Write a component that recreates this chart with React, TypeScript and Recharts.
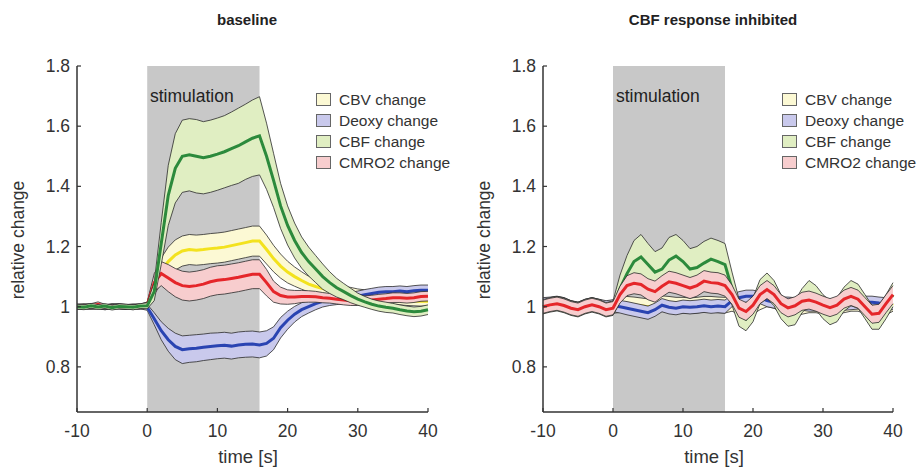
import React from "react";
import { ComposedChart, Area, Line, XAxis, YAxis, ReferenceArea } from "recharts";

// time axis, seconds
const time = [
  -10, -9, -8, -7, -6, -5, -4, -3, -2, -1,
  0, 1, 2, 3, 4, 5, 6, 7, 8, 9,
  10, 11, 12, 13, 14, 15, 16, 17, 18, 19,
  20, 21, 22, 23, 24, 25, 26, 27, 28, 29,
  30, 31, 32, 33, 34, 35, 36, 37, 38, 39, 40,
];
const xTicks = [-10, 0, 10, 20, 30, 40];
const yTicks = [0.8, 1, 1.2, 1.4, 1.6, 1.8];
const stimWindow = [0, 16];

// ---- baseline panel ----
const baseCbv = [
  1.0, 1.002, 0.999, 1.001, 0.998, 1.002, 1.0, 0.999, 1.001, 1.0,
  1.005, 1.07, 1.12, 1.15, 1.172, 1.185, 1.19, 1.188, 1.19, 1.193,
  1.195, 1.198, 1.203, 1.208, 1.213, 1.218, 1.218, 1.19, 1.16, 1.135,
  1.115, 1.1, 1.087, 1.075, 1.067, 1.06, 1.056, 1.053, 1.05, 1.047,
  1.043, 1.04, 1.035, 1.03, 1.027, 1.024, 1.022, 1.02, 1.019, 1.018, 1.018,
];
const baseCbvSd = [
  0.008, 0.008, 0.008, 0.008, 0.008, 0.008, 0.008, 0.008, 0.008, 0.008,
  0.01, 0.03, 0.042, 0.048, 0.05, 0.05, 0.05, 0.05, 0.05, 0.05,
  0.05, 0.05, 0.05, 0.05, 0.05, 0.05, 0.05, 0.048, 0.044, 0.04,
  0.036, 0.032, 0.029, 0.026, 0.024, 0.022, 0.02, 0.019, 0.018, 0.017,
  0.016, 0.016, 0.016, 0.016, 0.016, 0.016, 0.016, 0.016, 0.016, 0.016, 0.016,
];
const baseDeoxy = [
  1.0, 0.999, 1.001, 1.0, 0.998, 1.001, 1.002, 0.999, 1.0, 1.001,
  0.998, 0.96, 0.92, 0.89, 0.868, 0.857, 0.86, 0.862, 0.865, 0.868,
  0.87, 0.872, 0.869, 0.873, 0.875, 0.876, 0.873, 0.878, 0.895, 0.93,
  0.955, 0.975, 0.99, 1.0, 1.01, 1.018, 1.022, 1.025, 1.028, 1.031,
  1.035, 1.04, 1.044, 1.048, 1.05, 1.05, 1.052, 1.05, 1.053, 1.055, 1.055,
];
const baseDeoxySd = [
  0.008, 0.008, 0.008, 0.008, 0.008, 0.008, 0.008, 0.008, 0.008, 0.008,
  0.01, 0.02, 0.03, 0.038, 0.044, 0.046, 0.045, 0.045, 0.044, 0.044,
  0.043, 0.043, 0.043, 0.043, 0.043, 0.043, 0.043, 0.042, 0.038, 0.034,
  0.03, 0.026, 0.023, 0.021, 0.02, 0.019, 0.018, 0.018, 0.018, 0.017,
  0.017, 0.017, 0.017, 0.017, 0.017, 0.017, 0.017, 0.017, 0.017, 0.017, 0.017,
];
const baseCbf = [
  1.0, 0.998, 1.003, 0.999, 1.002, 0.997, 1.001, 1.0, 0.998, 1.002,
  1.003, 1.05, 1.21, 1.37, 1.46, 1.5, 1.505, 1.5, 1.495, 1.5,
  1.507, 1.515, 1.525, 1.535, 1.548, 1.56, 1.568, 1.5, 1.42, 1.335,
  1.27, 1.22, 1.18, 1.15, 1.125, 1.1, 1.08, 1.063, 1.05, 1.037,
  1.025, 1.016, 1.008, 1.002, 0.998, 0.995, 0.99, 0.986, 0.983, 0.985, 0.99,
];
const baseCbfSd = [
  0.008, 0.008, 0.008, 0.008, 0.008, 0.008, 0.008, 0.008, 0.008, 0.008,
  0.01, 0.03, 0.07, 0.1, 0.115, 0.12, 0.12, 0.122, 0.12, 0.12,
  0.12, 0.12, 0.122, 0.125, 0.125, 0.127, 0.13, 0.11, 0.09, 0.075,
  0.065, 0.058, 0.052, 0.048, 0.045, 0.042, 0.036, 0.031, 0.027, 0.024,
  0.02, 0.018, 0.017, 0.017, 0.017, 0.016, 0.016, 0.016, 0.016, 0.016, 0.016,
];
const baseCmro2 = [
  1.0, 1.0, 1.002, 1.008, 1.0, 0.999, 1.001, 1.0, 0.998, 1.001,
  1.005, 1.08, 1.11, 1.095, 1.08, 1.07, 1.067, 1.07, 1.075, 1.083,
  1.088, 1.09, 1.094, 1.098, 1.103, 1.108, 1.108, 1.08, 1.05, 1.037,
  1.032, 1.032, 1.034, 1.034, 1.033, 1.03, 1.028, 1.025, 1.022, 1.02,
  1.02, 1.02, 1.022, 1.025, 1.027, 1.03, 1.03, 1.028, 1.03, 1.034, 1.035,
];
const baseCmro2Sd = [
  0.008, 0.008, 0.008, 0.008, 0.008, 0.008, 0.008, 0.008, 0.008, 0.008,
  0.01, 0.03, 0.04, 0.045, 0.047, 0.048, 0.048, 0.048, 0.048, 0.048,
  0.048, 0.048, 0.048, 0.048, 0.048, 0.048, 0.048, 0.044, 0.035, 0.028,
  0.024, 0.022, 0.02, 0.019, 0.018, 0.017, 0.016, 0.016, 0.016, 0.016,
  0.016, 0.016, 0.016, 0.016, 0.016, 0.016, 0.016, 0.016, 0.016, 0.016, 0.016,
];

// ---- CBF response inhibited panel ----
const inhCbv = [
  1.005, 1.008, 1.012, 1.008, 0.998, 0.993, 1.002, 1.008, 1.002, 0.995,
  1.0, 1.005, 1.008, 1.006, 1.003, 1.0, 1.003, 1.01, 1.008, 1.005,
  1.005, 1.003, 1.005, 1.008, 1.008, 1.006, 1.005, 1.01, 1.0, 0.995,
  1.0, 1.015, 1.025, 1.02, 1.005, 0.995, 0.995, 1.0, 1.005, 1.005,
  1.0, 0.998, 1.0, 1.005, 1.01, 1.01, 1.002, 0.995, 0.992, 0.998, 1.01,
];
const inhCbvSd = [
  0.022, 0.022, 0.022, 0.022, 0.022, 0.022, 0.022, 0.022, 0.022, 0.022,
  0.022, 0.024, 0.026, 0.026, 0.026, 0.026, 0.026, 0.026, 0.026, 0.026,
  0.026, 0.026, 0.026, 0.026, 0.026, 0.026, 0.026, 0.025, 0.025, 0.025,
  0.025, 0.025, 0.025, 0.025, 0.025, 0.025, 0.025, 0.025, 0.025, 0.025,
  0.025, 0.025, 0.025, 0.025, 0.025, 0.025, 0.025, 0.025, 0.025, 0.025, 0.025,
];
const inhDeoxy = [
  1.01, 1.012, 1.015, 1.01, 1.0, 0.995, 1.005, 1.01, 1.005, 1.0,
  1.003, 1.0, 0.995, 0.99, 0.985, 0.98, 0.99, 1.005, 0.998, 0.995,
  1.0, 0.998, 1.0, 1.003, 1.0, 1.002, 1.0, 1.02, 1.03, 1.035,
  1.035, 1.03, 1.02, 1.015, 1.012, 1.012, 1.01, 1.008, 1.005, 1.005,
  1.005, 1.005, 1.005, 1.008, 1.01, 1.012, 1.015, 1.015, 1.012, 1.01, 1.01,
];
const inhDeoxySd = [
  0.02, 0.02, 0.02, 0.02, 0.02, 0.02, 0.02, 0.02, 0.02, 0.02,
  0.02, 0.021, 0.022, 0.022, 0.022, 0.022, 0.022, 0.022, 0.022, 0.022,
  0.022, 0.022, 0.022, 0.022, 0.022, 0.022, 0.022, 0.02, 0.02, 0.02,
  0.02, 0.02, 0.02, 0.02, 0.02, 0.02, 0.02, 0.02, 0.02, 0.02,
  0.02, 0.02, 0.02, 0.02, 0.02, 0.02, 0.02, 0.02, 0.02, 0.02, 0.02,
];
const inhCbf = [
  1.0, 1.006, 1.01, 1.004, 0.995, 0.99, 1.0, 1.006, 1.0, 0.99,
  0.995, 1.06, 1.11, 1.15, 1.165, 1.14, 1.115, 1.125, 1.155, 1.168,
  1.15, 1.125, 1.13, 1.145, 1.158, 1.15, 1.14, 1.06, 0.98, 0.96,
  0.99, 1.05, 1.07, 1.045, 1.0, 0.975, 0.98, 1.02, 1.045, 1.03,
  1.0, 0.98, 0.99, 1.025, 1.045, 1.035, 1.0, 0.965, 0.965, 1.0, 1.04,
];
const inhCbfSd = [
  0.024, 0.024, 0.024, 0.024, 0.024, 0.024, 0.024, 0.024, 0.024, 0.024,
  0.024, 0.045, 0.06, 0.07, 0.075, 0.07, 0.068, 0.07, 0.075, 0.072,
  0.07, 0.068, 0.07, 0.072, 0.07, 0.07, 0.07, 0.055, 0.045, 0.04,
  0.04, 0.04, 0.042, 0.042, 0.04, 0.04, 0.04, 0.04, 0.042, 0.04,
  0.04, 0.04, 0.04, 0.04, 0.042, 0.04, 0.04, 0.04, 0.04, 0.04, 0.04,
];
const inhCmro2 = [
  1.0, 1.006, 1.01, 1.004, 0.995, 0.99, 1.0, 1.006, 1.0, 0.99,
  0.995, 1.04, 1.07, 1.078, 1.074, 1.058, 1.05, 1.068, 1.083, 1.078,
  1.07, 1.062, 1.07, 1.085, 1.08, 1.078, 1.07, 1.04, 0.995, 0.984,
  1.005, 1.04, 1.057, 1.04, 1.01, 0.996, 1.003, 1.018, 1.022, 1.015,
  1.005, 0.997, 1.005, 1.025, 1.034, 1.025, 1.0, 0.975, 0.978, 1.01, 1.04,
];
const inhCmro2Sd = [
  0.022, 0.022, 0.022, 0.022, 0.022, 0.022, 0.022, 0.022, 0.022, 0.022,
  0.022, 0.028, 0.033, 0.035, 0.035, 0.035, 0.035, 0.035, 0.035, 0.035,
  0.035, 0.035, 0.035, 0.035, 0.035, 0.035, 0.035, 0.032, 0.03, 0.03,
  0.03, 0.03, 0.03, 0.03, 0.03, 0.03, 0.03, 0.03, 0.03, 0.03,
  0.03, 0.03, 0.03, 0.03, 0.03, 0.03, 0.03, 0.03, 0.03, 0.03, 0.03,
];

const series = [
  { key: "cbv", name: "CBV change", line: "#f3e21e", band: "#fcf9d4" },
  { key: "deoxy", name: "Deoxy change", line: "#2a44b2", band: "#c9c9ec" },
  { key: "cbf", name: "CBF change", line: "#2c8a3c", band: "#e0eec2" },
  { key: "cmro2", name: "CMRO2 change", line: "#e5262a", band: "#f7cdce" },
];

const FONT = '"Liberation Sans", Arial, Helvetica, sans-serif';
const INK = "#333";

function buildRows(means: Record<string, number[]>, sds: Record<string, number[]>) {
  return time.map((t, i) => {
    const row: Record<string, any> = { t };
    series.forEach((s) => {
      const m = means[s.key][i];
      const d = sds[s.key][i];
      row[s.key] = m;
      row[s.key + "Band"] = [m - d, m + d];
    });
    return row;
  });
}

const baselineRows = buildRows(
  { cbv: baseCbv, deoxy: baseDeoxy, cbf: baseCbf, cmro2: baseCmro2 },
  { cbv: baseCbvSd, deoxy: baseDeoxySd, cbf: baseCbfSd, cmro2: baseCmro2Sd }
);
const inhibitedRows = buildRows(
  { cbv: inhCbv, deoxy: inhDeoxy, cbf: inhCbf, cmro2: inhCmro2 },
  { cbv: inhCbvSd, deoxy: inhDeoxySd, cbf: inhCbfSd, cmro2: inhCmro2Sd }
);

const YTick = (props: any) => {
  const { x, y, payload } = props;
  return (
    <g>
      <line x1={x} x2={x + 4} y1={y} y2={y} stroke={INK} strokeWidth={1.2} />
      <text x={x - 7} y={y} dy={6} textAnchor="end" fontSize={17.5} fill={INK} fontFamily={FONT}>
        {String(payload.value)}
      </text>
    </g>
  );
};

const XTick = (props: any) => {
  const { x, y, payload } = props;
  return (
    <g>
      <line x1={x} x2={x} y1={y} y2={y - 4} stroke={INK} strokeWidth={1.2} />
      <text x={x} y={y + 25} textAnchor="middle" fontSize={17.5} fill={INK} fontFamily={FONT}>
        {String(payload.value)}
      </text>
    </g>
  );
};

function Panel(props: {
  rows: any[];
  left: number;
  width: number;
  marginLeft: number;
  marginRight: number;
  title: string;
  order: string[];
}) {
  const { rows, left, width, marginLeft, marginRight, title, order } = props;
  const plotLeft = marginLeft + 50;
  const stimLeft = plotLeft + 70;
  const legendLeft = plotLeft + 239;
  return (
    <div style={{ position: "absolute", left, top: 0, width, height: 470 }}>
      <ComposedChart
        width={width}
        height={470}
        data={rows}
        margin={{ top: 66, right: marginRight, bottom: 28, left: marginLeft }}
      >
        <ReferenceArea
          x1={stimWindow[0]}
          x2={stimWindow[1]}
          y1={0.65}
          y2={1.8}
          fill="#c8c8c8"
          fillOpacity={1}
          stroke="none"
          zIndex={50}
        />
        {order.map((key, i) => {
          const s = series.find((d) => d.key === key)!;
          return [
            <Area
              key={s.key + "-band"}
              type="linear"
              dataKey={s.key + "Band"}
              fill={s.band}
              fillOpacity={1}
              stroke="#2a2a2a"
              strokeWidth={0.8}
              dot={false}
              activeDot={false}
              isAnimationActive={false}
              zIndex={100 + i * 10}
            />,
            <Line
              key={s.key + "-mean"}
              type="linear"
              dataKey={s.key}
              stroke={s.line}
              strokeWidth={3}
              dot={false}
              activeDot={false}
              isAnimationActive={false}
              zIndex={105 + i * 10}
            />,
          ];
        })}
        <XAxis
          dataKey="t"
          type="number"
          domain={[-10, 40]}
          ticks={xTicks}
          height={30}
          tickLine={false}
          tickSize={0}
          tickMargin={0}
          axisLine={{ stroke: INK, strokeWidth: 1.5 }}
          tick={<XTick />}
          interval={0}
        />
        <YAxis
          type="number"
          domain={[0.65, 1.8]}
          ticks={yTicks}
          width={50}
          tickLine={false}
          tickSize={0}
          tickMargin={0}
          axisLine={{ stroke: INK, strokeWidth: 1.5 }}
          tick={<YTick />}
          interval={0}
          allowDataOverflow
        />
      </ComposedChart>

      <div
        style={{
          position: "absolute",
          left: plotLeft + 170,
          top: 11,
          transform: "translateX(-50%)",
          whiteSpace: "nowrap",
          fontWeight: "bold",
          fontSize: 15,
          color: "#222",
        }}
      >
        {title}
      </div>

      <div
        style={{
          position: "absolute",
          left: stimLeft + 3,
          top: 86,
          fontSize: 17.5,
          color: "#222",
          whiteSpace: "nowrap",
        }}
      >
        stimulation
      </div>

      <div
        style={{
          position: "absolute",
          left: plotLeft - 59,
          top: 240,
          fontSize: 17.5,
          color: INK,
          whiteSpace: "nowrap",
          transform: "translate(-50%, -50%) rotate(-90deg)",
        }}
      >
        relative change
      </div>

      <div
        style={{
          position: "absolute",
          left: plotLeft + 171,
          top: 457,
          fontSize: 18.5,
          color: INK,
          whiteSpace: "nowrap",
          transform: "translate(-50%, -50%)",
        }}
      >
        time [s]
      </div>

      <div style={{ position: "absolute", left: legendLeft, top: 89 }}>
        {series.map((s) => (
          <div key={s.key} style={{ display: "flex", alignItems: "center", height: 21 }}>
            <span
              style={{
                display: "inline-block",
                width: 13,
                height: 11,
                background: s.band,
                border: "1px solid #666",
                marginRight: 8,
              }}
            />
            <span style={{ fontSize: 15.5, color: INK, whiteSpace: "nowrap" }}>{s.name}</span>
          </div>
        ))}
      </div>
    </div>
  );
}

export default function App() {
  return (
    <div
      style={{
        position: "absolute",
        left: 0,
        top: 0,
        width: 923,
        height: 470,
        background: "#fff",
        fontFamily: FONT,
        overflow: "hidden",
      }}
    >
      <Panel
        rows={baselineRows}
        left={0}
        width={460}
        marginLeft={27}
        marginRight={32}
        title="baseline"
        order={["cbv", "deoxy", "cmro2", "cbf"]}
      />
      <Panel
        rows={inhibitedRows}
        left={460}
        width={463}
        marginLeft={33}
        marginRight={30}
        title="CBF response inhibited"
        order={["cbv", "deoxy", "cbf", "cmro2"]}
      />
    </div>
  );
}
